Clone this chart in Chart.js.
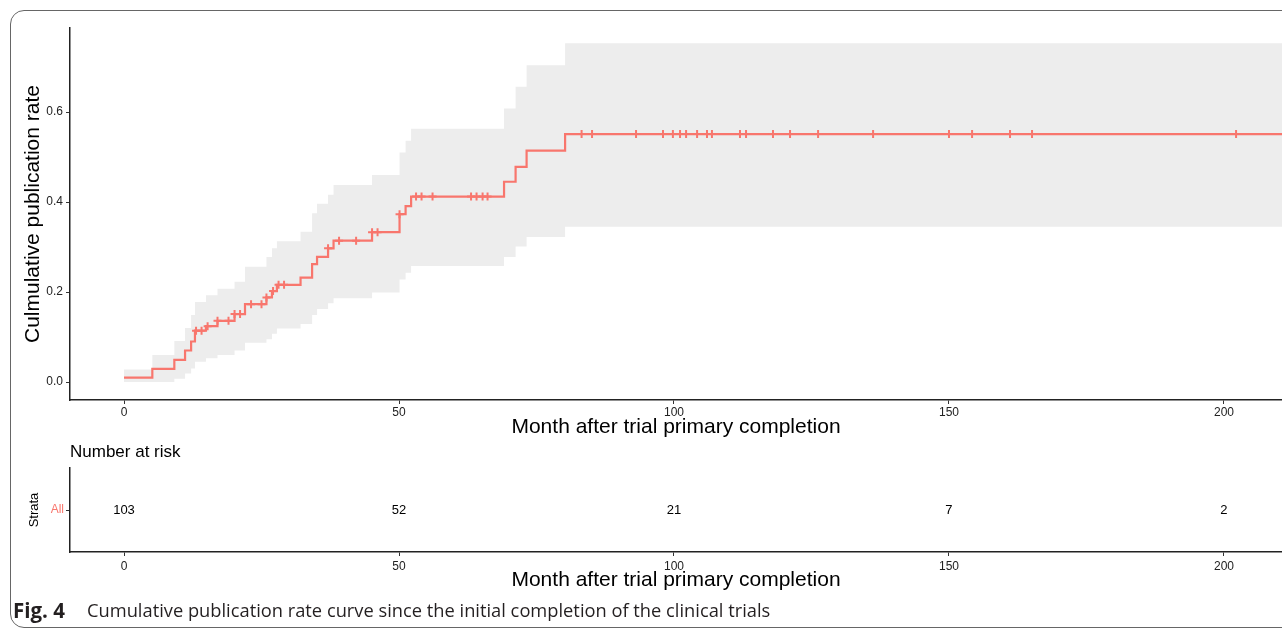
<!DOCTYPE html>
<html>
<head>
<meta charset="utf-8">
<script src="https://cdn.jsdelivr.net/npm/chart.js@4.4.1/dist/chart.umd.min.js"></script>
<style>
  body { margin: 0; width: 1282px; height: 630px; overflow: hidden; background: #fff; position: relative; }
  #frame { position: absolute; left: 10px; top: 10px; width: 1300px; height: 616px; border: 1.5px solid #666; border-radius: 14px; }
  .box { position: absolute; left: 0; width: 1282px; }
  .cap { position: absolute; top: 600px; font-family: "Open Sans", Lato, sans-serif; font-size: 18.3px; line-height: 20px; color: #231f20; white-space: nowrap; }
</style>
</head>
<body>
<div id="frame"></div>
<div class="box" style="top:0; height:445px"><canvas id="km" width="1282" height="445"></canvas></div>
<div class="box" style="top:440px; height:160px"><canvas id="risk" width="1282" height="160"></canvas></div>
<div class="cap" style="left:13px; font-weight:700; font-size:20.5px">Fig. 4</div>
<div class="cap" style="left:87px">Cumulative publication rate curve since the initial completion of the clinical trials</div>

<script>
// step times (months) of the KM-type curve, with estimate and confidence band
const kmTimes    = [0, 5.15, 9.15, 11.1, 12.2, 12.9, 14.9, 17.0, 20.1, 22.0, 25.9, 26.9, 27.8, 32.1, 34.2, 35.1, 37.1, 38.1, 45.1, 50.1, 51.2, 52.2, 69.1, 71.2, 73.2, 80.2, 215];
const kmEstimate = [0.0097, 0.029, 0.049, 0.070, 0.090, 0.114, 0.124, 0.136, 0.151, 0.173, 0.188, 0.202, 0.216, 0.232, 0.262, 0.278, 0.297, 0.314, 0.333, 0.373, 0.391, 0.412, 0.445, 0.478, 0.514, 0.551, 0.551];
const kmUpper    = [0.028, 0.060, 0.091, 0.120, 0.149, 0.178, 0.193, 0.207, 0.223, 0.256, 0.278, 0.297, 0.313, 0.334, 0.375, 0.396, 0.416, 0.438, 0.460, 0.510, 0.536, 0.563, 0.608, 0.656, 0.704, 0.753, 0.753];
const kmLower    = [0.000, 0.000, 0.007, 0.019, 0.030, 0.045, 0.053, 0.060, 0.070, 0.087, 0.095, 0.107, 0.119, 0.129, 0.149, 0.162, 0.175, 0.186, 0.199, 0.228, 0.243, 0.258, 0.278, 0.301, 0.322, 0.345, 0.345];

// censoring marks (months)
const censorTimes = [13.1, 14.1, 15.2, 17.0, 19.0, 20.1, 21.1, 23.1, 25.0, 25.9, 27.1, 28.1, 29.1, 37.1, 39.1, 42.2, 45.1, 46.1, 50.1,
  53.1, 54.1, 56.1, 63.1, 64.1, 65.2, 66.1, 83.2, 85.1, 93.1, 98.0, 99.8, 101.1, 102.2, 104.2, 106.0, 106.9, 112.0, 113.1,
  118.0, 121.1, 126.2, 136.2, 150.0, 154.2, 161.1, 165.1, 202.2];

// number at risk table
const riskTimes  = [0, 50, 100, 150, 200];
const riskCounts = [103, 52, 21, 7, 2];

const xTicks = [0, 50, 100, 150, 200];
const yTicks = [0, 0.2, 0.4, 0.6];

const salmon = '#F8766D';
const font = '"Liberation Sans", Arial, sans-serif';
const xMin = -9.82, xMax = 210.55;

const levelAt = t => {
    let v = kmEstimate[0];
    kmTimes.forEach((s, i) => { if (s <= t + 1e-9) v = kmEstimate[i]; });
    return v;
};

const toPoints = vals => kmTimes.map((t, i) => ({ x: t, y: vals[i] }));

const axisGrid = { display: true, drawOnChartArea: false, drawTicks: true, tickLength: 4, color: '#333', tickWidth: 1 };
const axisBorder = { display: true, color: '#222', width: 1.5 };

new Chart(document.getElementById('km'), {
    type: 'line',
    data: {
        datasets: [
            {
                type: 'scatter',
                data: censorTimes.map(t => ({ x: t, y: levelAt(t) })),
                pointStyle: 'cross',
                pointRadius: 4,
                borderColor: salmon,
                borderWidth: 2,
                showLine: false
            },
            {
                data: toPoints(kmEstimate),
                stepped: true,
                borderColor: salmon,
                borderWidth: 2.2,
                pointRadius: 0,
                fill: false
            },
            {
                data: toPoints(kmUpper),
                stepped: true,
                borderWidth: 0,
                borderColor: 'rgba(0,0,0,0)',
                pointRadius: 0,
                fill: '+1',
                backgroundColor: '#ededed'
            },
            {
                data: toPoints(kmLower),
                stepped: true,
                borderWidth: 0,
                borderColor: 'rgba(0,0,0,0)',
                pointRadius: 0,
                fill: false
            }
        ]
    },
    options: {
        responsive: false,
        animation: false,
        layout: { autoPadding: false, padding: { top: 28, left: 0, right: 0, bottom: 0 } },
        plugins: { legend: { display: false }, tooltip: { enabled: false } },
        scales: {
            x: {
                type: 'linear',
                min: xMin,
                max: xMax,
                grid: axisGrid,
                border: axisBorder,
                afterBuildTicks: s => { s.ticks = xTicks.map(v => ({ value: v })); },
                afterFit: s => { s.height = 45; s.paddingLeft = 0; s.paddingRight = 0; },
                ticks: { color: '#222', font: { family: font, size: 12 }, padding: 1, maxRotation: 0, callback: v => String(v) },
                title: { display: true, text: 'Month after trial primary completion', color: '#000', font: { family: font, size: 21 }, padding: { top: 0, bottom: 5 } }
            },
            y: {
                type: 'linear',
                min: -0.04,
                max: 0.7867,
                grid: axisGrid,
                border: axisBorder,
                afterBuildTicks: s => { s.ticks = yTicks.map(v => ({ value: v })); },
                afterFit: s => { s.width = 70; s.paddingTop = 0; s.paddingBottom = 0; },
                ticks: { color: '#222', font: { family: font, size: 12 }, padding: 3, callback: v => v.toFixed(1) },
                title: { display: true, text: 'Culmulative publication rate', color: '#000', font: { family: font, size: 21 }, padding: { top: 21, bottom: 0 } }
            }
        }
    }
});

const riskLabels = {
    id: 'riskLabels',
    afterDatasetsDraw(chart) {
        const { ctx, chartArea, scales: { x, y } } = chart;
        ctx.save();
        ctx.fillStyle = '#000';
        ctx.textBaseline = 'middle';
        ctx.font = '13px ' + font;
        ctx.textAlign = 'center';
        riskTimes.forEach((t, i) => {
            ctx.fillText(String(riskCounts[i]), x.getPixelForValue(t), y.getPixelForValue(0));
        });
        ctx.font = '17px ' + font;
        ctx.textAlign = 'left';
        ctx.fillText('Number at risk', chartArea.left, 12);
        ctx.restore();
    }
};

new Chart(document.getElementById('risk'), {
    type: 'line',
    data: {
        labels: ['All'],
        datasets: [{
            data: riskTimes.map(t => ({ x: t, y: 'All' })),
            pointRadius: 0,
            showLine: false
        }]
    },
    options: {
        responsive: false,
        animation: false,
        layout: { autoPadding: false, padding: { top: 28, left: 0, right: 0, bottom: 0 } },
        plugins: { legend: { display: false }, tooltip: { enabled: false } },
        scales: {
            x: {
                type: 'linear',
                min: xMin,
                max: xMax,
                grid: axisGrid,
                border: axisBorder,
                afterBuildTicks: s => { s.ticks = xTicks.map(v => ({ value: v })); },
                afterFit: s => { s.height = 48; s.paddingLeft = 0; s.paddingRight = 0; },
                ticks: { color: '#222', font: { family: font, size: 12 }, padding: 3, maxRotation: 0, callback: v => String(v) },
                title: { display: true, text: 'Month after trial primary completion', color: '#000', font: { family: font, size: 21 }, padding: { top: 0, bottom: 7 } }
            },
            y: {
                type: 'category',
                labels: ['All'],
                offset: true,
                grid: axisGrid,
                border: axisBorder,
                afterFit: s => { s.width = 70; s.paddingTop = 0; s.paddingBottom = 0; },
                ticks: { color: salmon, font: { family: font, size: 12 }, padding: 2 },
                title: { display: true, text: 'Strata', color: '#000', font: { family: font, size: 13 }, padding: { top: 27, bottom: 0 } }
            }
        }
    },
    plugins: [riskLabels]
});
</script>
</body>
</html>
